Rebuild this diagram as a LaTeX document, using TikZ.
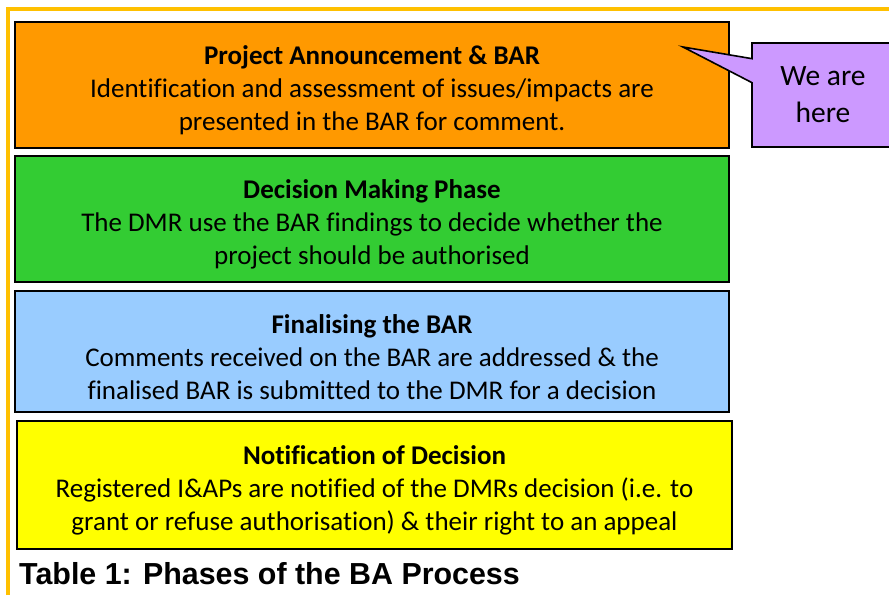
\documentclass[tikz,border=0pt]{standalone}
\usepackage{fontspec}
\setmainfont{Carlito}[Ligatures=NoCommon]
\newfontfamily\capfont{Liberation Sans}
\usetikzlibrary{shapes.callouts}

\definecolor{frameGold}{HTML}{FFC000}
\definecolor{phaseOrange}{HTML}{FF9900}
\definecolor{phaseGreen}{HTML}{33CC33}
\definecolor{phaseBlue}{HTML}{99CCFF}
\definecolor{phaseYellow}{HTML}{FFFF00}
\definecolor{calloutPurple}{HTML}{CC99FF}

% bold phase heading, with a strut to push the text block down a little
\newcommand{\phasetitle}[1]{\rule{0pt}{30pt}\textbf{#1}}

\begin{document}
\begin{tikzpicture}[x=1pt,y=-1pt,
  phase/.style={draw=black,line width=2.6pt,align=center,inner sep=0pt,
    minimum width=714pt,font=\fontsize{27}{33}\selectfont},
  here/.style={rectangle callout,draw=black,line width=1.6pt,fill=calloutPurple,
    align=center,minimum width=142pt,minimum height=104pt,
    callout pointer width=24pt,font=\fontsize{29.5}{37}\selectfont}]

  \clip (0,0) rectangle (889,595);
  \useasboundingbox (0,0) rectangle (889,595);

  % page frame
  \draw [frameGold,line width=3.2pt] (8,595) -- (8,9) -- (889,9);

  % Phases
  \node[phase,fill=phaseOrange,minimum height=126pt] (announce) at (372,85)
    {\phasetitle{Project Announcement \& BAR}\\Identification and assessment of issues/impacts are\\presented in the BAR for comment.};
  \node[phase,fill=phaseGreen,minimum height=126pt] (decide) at (372,219)
    {\phasetitle{Decision Making Phase}\\The DMR use the BAR findings to decide whether the\\project should be authorised};
  \node[phase,fill=phaseBlue,minimum height=121pt] (finalise) at (372,351.5)
    {\phasetitle{Finalising the BAR}\\Comments received on the BAR are addressed \& the\\finalised BAR is submitted to the DMR for a decision};
  \node[phase,fill=phaseYellow,minimum height=128pt,minimum width=715pt] (notify) at (374.5,485)
    {\phasetitle{Notification of Decision}\\Registered I\&APs are notified of the DMRs decision (i.e. to\\grant or refuse authorisation) \& their right to an appeal};

  % Callout
  \coordinate (tip) at (683,47);
  \node[here,callout absolute pointer={(tip)}] (weare) at (823,95) {We are\\here};

  % Caption
  \node[anchor=base west,inner sep=0pt,font=\capfont\bfseries\fontsize{30.4}{36}\selectfont] (caption) at (19,584)
    {Table 1: Phases of the BA Process};

\end{tikzpicture}
\end{document}
